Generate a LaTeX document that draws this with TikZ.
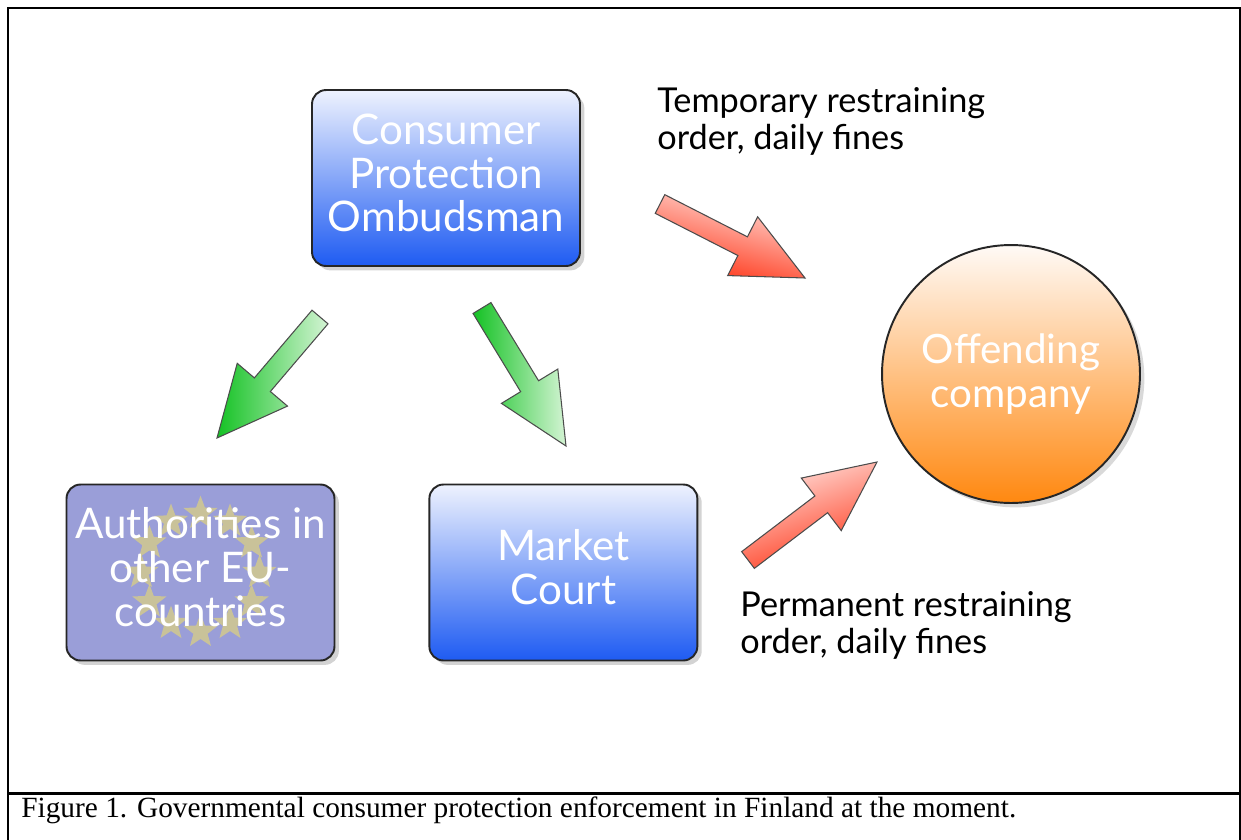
\documentclass[tikz,border=0pt]{standalone}
\usepackage{fontspec}
\setmainfont{Liberation Serif}
\newfontfamily\gillfont{Lato}
\usetikzlibrary{positioning,shapes.geometric,shadows,calc}

\definecolor{boxtop}{HTML}{EEF2FE}
\definecolor{boxbot}{HTML}{1E5BF2}
\definecolor{eufill}{HTML}{9A9ED8}
\definecolor{eustarcol}{HTML}{E9DA70}
\definecolor{orgtop}{HTML}{FFFAF6}
\definecolor{orgbot}{HTML}{FF8810}
\definecolor{reddark}{HTML}{FF3416}
\definecolor{redlight}{HTML}{FFE2DE}
\definecolor{greendark}{HTML}{14C224}
\definecolor{greenlight}{HTML}{D4F4D4}

% fat arrow from tail #1 to tip #2
\newcommand{\fatarrow}[3]{%
  \coordinate (neck) at ($(#2)!1.4cm!(#1)$);
  \path[fatline,#3] ($(#1)!0.21cm!90:(#2)$) -- ($(neck)!0.21cm!90:(#2)$)
    -- ($(neck)!0.66cm!90:(#2)$) -- (#2) -- ($(neck)!0.66cm!-90:(#2)$)
    -- ($(neck)!0.21cm!-90:(#2)$) -- ($(#1)!0.21cm!-90:(#2)$) -- cycle;
}

\begin{document}
\begin{tikzpicture}[x=0.02cm, y=-0.02cm,
	box/.style={rectangle, rounded corners=8pt, draw=black!85, line width=1.1pt,
		minimum width=5.36cm, minimum height=3.52cm, align=center, text=white,
		text depth=6pt, font=\gillfont\fontsize{24}{25}\selectfont,
		drop shadow={opacity=0.35, shadow xshift=2.5pt, shadow yshift=-2.5pt}},
	bluebox/.style={box, top color=boxtop, bottom color=boxbot},
	eustar/.style={star, star points=5, star point ratio=2.4, sharp corners,
		fill=eustarcol, fill opacity=0.6, draw=none, minimum size=0.26cm, inner sep=0pt},
	label/.style={anchor=north west, inner sep=0pt, align=left,
		font=\gillfont\fontsize{19.5}{21}\selectfont},
	fatline/.style={draw=black!70, line width=0.6pt}]
	\useasboundingbox (0,0) rectangle (1241,839);

	% frame and caption
	\draw[line width=1.7pt] (8,860) -- (8,8) -- (1240,8) -- (1240,860);
	\draw[line width=1.7pt] (8,793) -- (1240,793);
	\node[anchor=base west, inner sep=0pt, font=\fontsize{16.7}{20}\selectfont] (caption) at (21,817)
		{Figure 1. Governmental consumer protection enforcement in Finland at the moment.};

	% boxes
	\node[bluebox] (ombud) at (446,178) {Consumer\\Protection\\Ombudsman};
	\node[box, fill=eufill, path picture={
		\foreach \a in {0,30,...,330}
			\node[eustar] (star\a) at ([shift={(\a:59)}]path picture bounding box.center) {};
		}] (eu) at (200.5,572.5) {Authorities in\\other EU-\\countries};
	\node[bluebox] (court) [right=1.86cm of eu] {Market\\Court};
	\node[circle, draw=black!85, line width=1.1pt, minimum size=5.16cm, align=center,
		top color=orgtop, bottom color=orgbot, text=white,
		font=\gillfont\fontsize{23}{25.5}\selectfont,
		drop shadow={opacity=0.3, shadow xshift=2.5pt, shadow yshift=-2.5pt}]
		(company) at (1011,374) {Offending\\company};

	% labels
	\node[label] (temp) at (657,87) {Temporary restraining\\order, daily fines};
	\node[label] (perm) at (740,591) {Permanent restraining\\order, daily fines};

	% arrows
	\coordinate (g1a) at (320,317);
	\coordinate (g1b) at (217,438);
	\coordinate (g2a) at (482,308);
	\coordinate (g2b) at (566,446);
	\coordinate (r1a) at (660,204);
	\coordinate (r1b) at (805,278);
	\coordinate (r2a) at (748,560);
	\coordinate (r2b) at (877,462);
	\fatarrow{g1a}{g1b}{top color=greendark, bottom color=greenlight, shading angle=90}
	\fatarrow{g2a}{g2b}{top color=greendark, bottom color=greenlight, shading angle=90}
	\fatarrow{r1a}{r1b}{top color=redlight, bottom color=reddark, shading angle=-15}
	\fatarrow{r2a}{r2b}{top color=redlight, bottom color=reddark, shading angle=20}
\end{tikzpicture}
\end{document}
